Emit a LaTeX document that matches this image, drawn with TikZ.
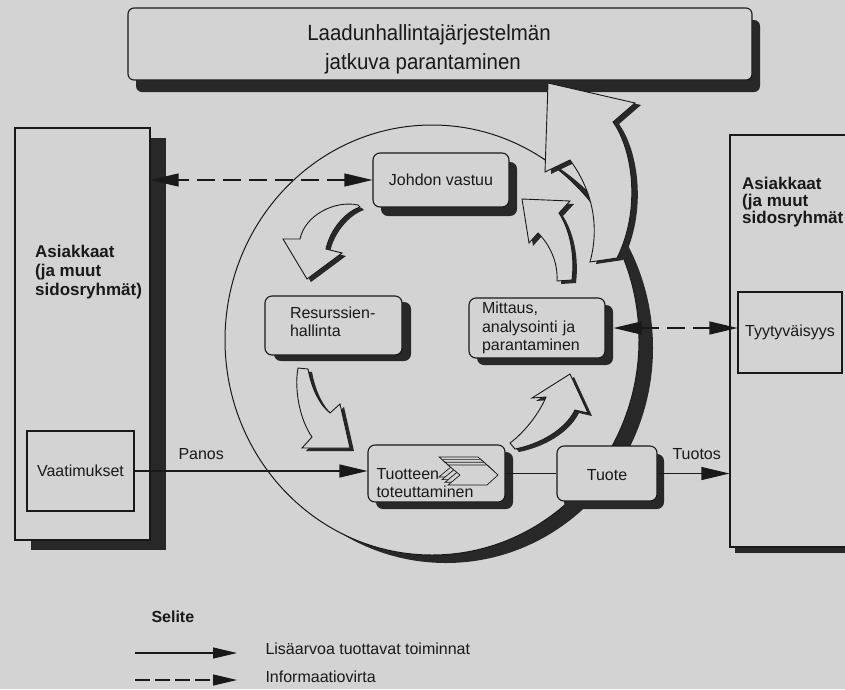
\documentclass[tikz,border=0pt]{standalone}
\usepackage{fontspec}
\setmainfont{Liberation Sans}
\newfontfamily\headfont{Liberation Sans}[FakeStretch=0.93]
\usetikzlibrary{arrows.meta,shadows,shapes.geometric}

\definecolor{paper}{RGB}{211,211,211}
\definecolor{ink}{RGB}{25,25,25}
\definecolor{shade}{RGB}{40,40,40}

\tikzset{
  txt/.style={font=\fontsize{16}{18.5}\selectfont, text=ink},
  captxt/.style={font=\fontsize{17}{19}\selectfont\bfseries, text=ink, align=left, inner sep=0pt},
  panel/.style={draw=ink, line width=1.1pt, fill=paper, inner sep=0pt},
  shadowed/.style n args={2}{drop shadow={shadow xshift=#1, shadow yshift=#2, opacity=1, fill=shade}},
  procbox/.style={panel, rounded corners=7pt, txt, align=left},
  blockarrow/.style={fill=paper, draw=ink, line width=0.9pt, line join=miter},
  blockshade/.style={fill=shade},
  flow/.style={draw=ink, line width=1.2pt, >={Triangle[length=28pt,width=13pt]}, ->},
  plainflow/.style={draw=ink, line width=1.2pt},
  info/.style={flow, dash pattern=on 18pt off 8pt},
  legendflow/.style={draw=ink, line width=1.1pt, -{Triangle[length=24pt,width=11pt]}}
}

% struts that move a text block up or down inside its box
\newcommand\topstrut[1]{\rule{0pt}{#1}}
\newcommand\bottomstrut[1]{\rule[-#1]{0pt}{#1}}

% curved block arrows of the improvement cycle
\newcommand\curveJR{(358,205) .. controls (335,200) and (305,215) .. (300,239) -- (283,239) -- (307,279) -- (342,253) -- (326,249) .. controls (330,230) and (345,212) .. (360,207) -- cycle}
\newcommand\curveRT{(298,368) -- (308,369) .. controls (312,390) and (320,405) .. (330,413) -- (340,404) -- (350,448) -- (302,448) -- (312,437) .. controls (300,420) and (294,390) .. (298,368) -- cycle}
\newcommand\curveTM{(510,443) -- (515,449) .. controls (540,444) and (565,430) .. (575,410) -- (588,413) -- (570,374) -- (532,398) -- (546,397) .. controls (540,412) and (525,432) .. (510,443) -- cycle}
\newcommand\curveMJ{(522,199) -- (570,201) -- (559,213) .. controls (570,230) and (575,255) .. (572,280) -- (557,281) .. controls (558,262) and (550,245) .. (538,233) -- (529,243) -- cycle}
\newcommand\curveUp{(548,83) -- (635,103) -- (613,122) .. controls (633,150) and (641,210) .. (617,258) -- (590,262) .. controls (600,225) and (592,190) .. (570,160) -- (545,172) -- cycle}
\newcommand\chevronicon{(448,465) -- (487,465) -- (498,475) -- (487,485) -- (448,485) -- (460,475) -- cycle}

\begin{document}
\begin{tikzpicture}[x=1pt,y=-1pt]
\clip (0,0) rectangle (845,689);
\fill[paper] (0,0) rectangle (845,689);

% continual improvement banner
\node[panel, rounded corners=6pt, shadowed={8pt}{-12pt}, minimum width=624, minimum height=72,
      align=center, text=ink, font=\headfont\fontsize{22}{29}\selectfont] (banner) at (440,44)
      {\topstrut{26pt}Laadunhallintajärjestelmän\hspace*{22pt}\\jatkuva parantaminen\hspace*{34pt}};

% customers on the input side
\node[panel, shadowed={16pt}{-10pt}, minimum width=135, minimum height=412] (leftgroup) at (82.5,334) {};
\node[captxt, anchor=north west] (leftcap) at (35,245) {Asiakkaat\\(ja muut\\sidosryhmät)};
\node[panel, txt, minimum width=107, minimum height=80] (vaatimukset) at (80.5,471) {Vaatimukset};

% customers on the output side
\node[panel, shadowed={5pt}{-6pt}, minimum width=130, minimum height=412] (rightgroup) at (795,341) {};
\node[captxt, anchor=north west, font=\fontsize{17}{17}\selectfont\bfseries] (rightcap) at (742,177) {Asiakkaat\\(ja muut\\sidosryhmät};
\node[panel, txt, minimum width=104, minimum height=81] (tyytyvaisyys) at (790,332.5) {Tyytyväisyys};

% process cycle
\node[ellipse, panel, line width=1pt, shadowed={14pt}{-8pt}, minimum width=414, minimum height=430] (cycle) at (432,340) {};

% arrow rising to the banner
\fill[blockshade, shift={(6,2)}] \curveUp;
\filldraw[blockarrow] \curveUp;

% process boxes
\node[procbox, shadowed={8pt}{-9pt}, minimum width=136, minimum height=54] (johdon) at (441,180) {Johdon vastuu};
\node[procbox, shadowed={9pt}{-6pt}, minimum width=137, minimum height=59, text width=87] (resurssit) at (333.5,325.5) {Resurssien-\\hallinta\bottomstrut{8pt}};
\node[procbox, shadowed={8pt}{-7pt}, minimum width=136, minimum height=60, text width=110] (mittaus) at (537,328) {Mittaus,\\analysointi ja\\parantaminen};
\node[procbox, shadowed={8pt}{-7pt}, minimum width=137, minimum height=57, text width=120] (tuotteen) at (436.5,473.5) {\topstrut{30pt}Tuotteen\\toteuttaminen};
\node[procbox, shadowed={7pt}{-8pt}, minimum width=100, minimum height=55, align=center] (tuote) at (607,473.5) {\topstrut{14pt}Tuote};

% stacked chevrons inside the realisation box
\foreach \d in {9,6,3,0}
  \filldraw[fill=paper, draw=ink, line width=0.7pt, shift={(-\d,-0.9*\d)}] \chevronicon;

% cycle arrows between the process boxes
\foreach \shape in {\curveJR,\curveRT,\curveTM,\curveMJ}{
  \fill[blockshade, shift={(4,3)}] \shape;
  \filldraw[blockarrow] \shape;
}

% value-adding flow
\draw[flow] (vaatimukset.east) -- (vaatimukset.east -| tuotteen.west);
\draw[plainflow] (tuotteen.east) -- (tuote.west);
\draw[flow] (tuote.east) -- (tuote.east -| rightgroup.west);
\node[txt, anchor=base west] (panos) at (175,459) {Panos};
\node[txt, anchor=base west] (tuotos) at (669,459) {Tuotos};

% information flow
\draw[info, <->] (johdon.west) -- (johdon.west -| leftgroup.east);
\draw[info, <->, shorten <=8pt] (mittaus.east) -- (mittaus.east -| tyytyvaisyys.west);

% legend
\node[font=\fontsize{16}{18}\selectfont\bfseries, text=ink, anchor=base west] (legendhead) at (148,622) {Selite};
\coordinate (solidA) at (135,653);
\coordinate (solidB) at (237,653);
\draw[legendflow] (solidA) -- (solidB);
\node[txt, anchor=base west] (solidtxt) at (262,654) {Lisäarvoa tuottavat toiminnat};
\coordinate (dashA) at (135,680);
\coordinate (dashB) at (237,680);
\draw[legendflow, dash pattern=on 15pt off 5pt] (dashA) -- (dashB);
\node[txt, anchor=base west] (dashtxt) at (262,682) {Informaatiovirta};
\end{tikzpicture}
\end{document}
